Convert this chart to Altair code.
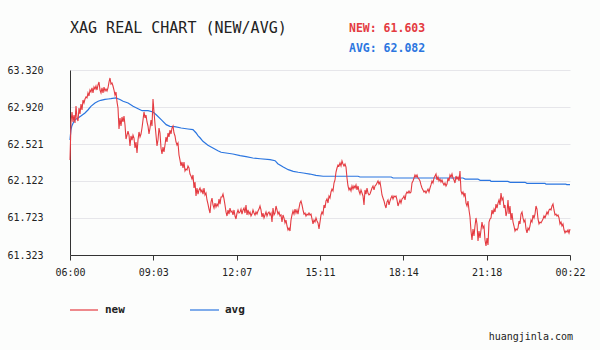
import altair as alt
import pandas as pd
import numpy as np

TITLE = "XAG REAL CHART (NEW/AVG)"
NEW_LABEL = "NEW: 61.603"
AVG_LABEL = "AVG: 62.082"
WATERMARK = "huangjinla.com"
SERIES_NAMES = ["new", "avg"]
RED = "#e43b41"
BLUE = "#2b76e0"

# session length in minutes: 06:00 -> 00:22 next day
SESSION_MINUTES = 1102

NEW_PRICES = [
    62.348, 62.759, 62.867, 62.759, 62.834, 62.748, 62.931, 62.802, 62.769, 62.910,
    62.845, 62.953, 62.888, 62.996, 62.964, 63.007, 63.029, 63.018, 63.072, 63.039,
    63.104, 63.083, 63.126, 63.072, 63.136, 63.115, 63.147, 63.104, 63.158, 63.190,
    63.104, 63.072, 63.126, 63.072, 63.136, 63.093, 63.115, 63.093, 63.126, 63.190,
    63.234, 63.169, 63.180, 63.147, 63.104, 63.050, 63.083, 62.975, 62.910, 62.683,
    62.802, 62.715, 62.813, 62.759, 62.823, 62.726, 62.575, 62.618, 62.661, 62.618,
    62.500, 62.608, 62.564, 62.618, 62.586, 62.478, 62.543, 62.424, 62.564, 62.651,
    62.597, 62.629, 62.694, 62.780, 62.867, 62.802, 62.834, 62.759, 62.715, 62.629,
    62.694, 62.780, 62.715, 63.007, 62.867, 62.737, 62.618, 62.500, 62.564, 62.694,
    62.640, 62.478, 62.413, 62.489, 62.435, 62.510, 62.597, 62.543, 62.640, 62.597,
    62.672, 62.629, 62.694, 62.715, 62.640, 62.608, 62.543, 62.510, 62.532, 62.402,
    62.348, 62.284, 62.327, 62.262, 62.327, 62.230, 62.251, 62.241, 62.284, 62.262,
    62.197, 62.176, 62.143, 62.187, 62.046, 62.111, 61.960, 62.046, 61.981, 62.025,
    62.046, 62.003, 62.025, 61.981, 62.046, 61.971, 61.992, 61.917, 61.873, 61.819,
    61.776, 61.895, 61.938, 61.863, 61.830, 61.884, 61.841, 61.873, 61.852, 61.928,
    61.873, 61.949, 61.949, 61.981, 61.928, 61.863, 61.787, 61.744, 61.809, 61.765,
    61.830, 61.787, 61.798, 61.755, 61.809, 61.744, 61.712, 61.776, 61.809, 61.776,
    61.787, 61.819, 61.765, 61.809, 61.830, 61.776, 61.863, 61.755, 61.809, 61.765,
    61.787, 61.744, 61.765, 61.809, 61.776, 61.755, 61.787, 61.765, 61.798, 61.819,
    61.852, 61.809, 61.733, 61.776, 61.723, 61.755, 61.787, 61.744, 61.776, 61.787,
    61.755, 61.776, 61.679, 61.830, 61.755, 61.776, 61.852, 61.809, 61.765, 61.787,
    61.744, 61.755, 61.679, 61.755, 61.723, 61.669, 61.701, 61.636, 61.593, 61.614,
    61.582, 61.701, 61.755, 61.798, 61.765, 61.819, 61.776, 61.809, 61.765, 61.830,
    61.884, 61.906, 61.863, 61.809, 61.765, 61.776, 61.744, 61.765, 61.755, 61.776,
    61.755, 61.765, 61.712, 61.658, 61.701, 61.679, 61.723, 61.690, 61.669, 61.604,
    61.679, 61.755, 61.787, 61.765, 61.863, 61.830, 61.906, 61.928, 61.884, 61.960,
    61.938, 62.003, 62.035, 62.014, 62.100, 62.133, 62.219, 62.262, 62.294, 62.284,
    62.316, 62.284, 62.338, 62.305, 62.284, 62.305, 62.273, 62.154, 62.068, 62.025,
    62.046, 62.014, 62.068, 62.035, 62.068, 62.046, 62.079, 62.025, 62.068, 62.014,
    61.981, 62.025, 61.992, 61.960, 61.863, 62.025, 61.981, 62.046, 61.992, 61.971,
    61.981, 62.014, 62.046, 62.068, 62.025, 62.068, 62.079, 62.100, 62.122, 62.089,
    62.111, 62.046, 61.971, 61.938, 61.906, 61.863, 61.830, 61.895, 61.917, 61.863,
    61.906, 61.938, 61.960, 61.928, 61.960, 61.949, 61.960, 61.917, 61.852, 61.884,
    61.917, 61.884, 61.928, 61.938, 61.960, 61.917, 61.981, 62.003, 61.992, 62.014,
    61.992, 62.003, 62.100, 62.122, 62.154, 62.187, 62.165, 62.187, 62.154, 62.143,
    62.122, 62.079, 62.046, 62.025, 62.003, 62.014, 61.992, 62.014, 62.035, 62.003,
    62.046, 62.079, 62.122, 62.100, 62.154, 62.176, 62.197, 62.133, 62.165, 62.122,
    62.143, 62.111, 62.133, 62.100, 62.079, 62.100, 62.068, 62.089, 62.154, 62.122,
    62.187, 62.165, 62.197, 62.154, 62.133, 62.100, 62.176, 62.143, 62.165, 62.122,
    62.230, 62.014, 61.981, 62.003, 61.960, 61.992, 61.884, 61.852, 61.906, 61.809,
    61.733, 61.582, 61.485, 61.604, 61.528, 61.636, 61.723, 61.658, 61.474, 61.582,
    61.507, 61.593, 61.679, 61.614, 61.636, 61.485, 61.420, 61.507, 61.431, 61.679,
    61.712, 61.723, 61.809, 61.765, 61.819, 61.787, 61.873, 61.830, 61.884, 61.917,
    61.863, 61.992, 61.917, 61.938, 61.830, 61.863, 61.744, 61.787, 61.917, 61.765,
    61.852, 61.701, 61.776, 61.679, 61.636, 61.582, 61.604, 61.593, 61.614, 61.690,
    61.658, 61.765, 61.787, 61.723, 61.679, 61.701, 61.604, 61.561, 61.614, 61.593,
    61.636, 61.701, 61.679, 61.755, 61.723, 61.765, 61.852, 61.819, 61.712, 61.658,
    61.679, 61.669, 61.690, 61.712, 61.744, 61.723, 61.755, 61.787, 61.765, 61.809,
    61.819, 61.809, 61.852, 61.873, 61.809, 61.755, 61.765, 61.744, 61.755, 61.723,
    61.658, 61.679, 61.636, 61.658, 61.593, 61.561, 61.582, 61.571, 61.593, 61.561,
    61.603,
]

# minutes after 06:00 for the average line
AVG_MINUTES = [
    0, 2, 4, 7, 11, 18, 24, 33, 40, 46, 55, 62, 68, 77, 84, 90, 101, 110, 117, 128,
    139, 150, 159, 172, 183, 190, 201, 212, 220, 231, 245, 260, 271, 278, 282, 287,
    293, 304, 315, 326, 333, 344, 359, 375, 388, 403, 419, 441, 452, 458, 470, 481,
    492, 503, 514, 529, 542, 558, 635, 639, 708, 712, 866, 871, 899, 904, 926, 928,
    965, 970, 1003, 1007, 1047, 1049, 1093, 1095, 1102,
]
AVG_PRICES = [
    62.564, 62.672, 62.715, 62.748, 62.784, 62.802, 62.823, 62.856, 62.891, 62.928,
    62.964, 62.982, 62.993, 63.002, 63.007, 63.010, 63.018, 63.002, 62.982, 62.964,
    62.928, 62.902, 62.881, 62.881, 62.867, 62.837, 62.784, 62.730, 62.712, 62.708,
    62.694, 62.683, 62.676, 62.640, 62.611, 62.586, 62.550, 62.507, 62.478, 62.449,
    62.432, 62.424, 62.413, 62.395, 62.384, 62.370, 62.362, 62.352, 62.341, 62.309,
    62.273, 62.244, 62.226, 62.216, 62.208, 62.197, 62.183, 62.173, 62.173, 62.165,
    62.165, 62.154, 62.154, 62.143, 62.143, 62.129, 62.129, 62.118, 62.118, 62.108,
    62.108, 62.097, 62.097, 62.088, 62.088, 62.082, 62.082,
]

Y_TICKS = [61.323, 61.723, 62.122, 62.521, 62.920, 63.320]
X_TICK_MINUTES = [0, 183.667, 367.333, 551, 734.667, 918.333, 1102]
X_TICK_LABELS = ["06:00", "09:03", "12:07", "15:11", "18:14", "21:18", "00:22"]

new_df = pd.DataFrame({
    "minute": np.linspace(0, SESSION_MINUTES, len(NEW_PRICES)),
    "price": NEW_PRICES,
})
avg_df = pd.DataFrame({"minute": AVG_MINUTES, "price": AVG_PRICES})

MONO = "DejaVu Sans Mono"
label_array = "[" + ",".join("'%s'" % s for s in X_TICK_LABELS) + "]"
step = SESSION_MINUTES / (len(X_TICK_LABELS) - 1)

x_enc = alt.X(
    "minute:Q",
    scale=alt.Scale(domain=[0, SESSION_MINUTES], nice=False, zero=False),
    axis=alt.Axis(
        values=X_TICK_MINUTES,
        labelExpr=f"{label_array}[round(datum.value / {step})]",
        grid=False, title=None,
        domainColor="#333333", domainWidth=1,
        tickColor="#333333", tickSize=5, tickWidth=1,
        labelFont=MONO, labelFontSize=10, labelColor="#222222",
        labelPadding=7, labelFlush=False, labelOverlap=False,
    ),
)
y_enc = alt.Y(
    "price:Q",
    scale=alt.Scale(domain=[61.323, 63.320], nice=False, zero=False),
    axis=alt.Axis(
        values=Y_TICKS, format=".3f", title=None,
        grid=True, gridColor="#e6e6ea", gridWidth=1,
        ticks=False, tickSize=0,
        domainColor="#333333", domainWidth=1,
        labelFont=MONO, labelFontSize=10, labelColor="#222222",
        labelPadding=27, labelOverlap=False,
    ),
)

avg_line = alt.Chart(avg_df).mark_line(color=BLUE, strokeWidth=1.2).encode(x=x_enc, y=y_enc)
new_line = alt.Chart(new_df).mark_line(color=RED, strokeWidth=1.1).encode(x=x_enc, y=y_enc)

one = pd.DataFrame({"k": [0]})


def text_layer(txt, x, y, size, color, bold=False, align="left", baseline="alphabetic"):
    return alt.Chart(one).mark_text(
        text=txt, font=MONO, fontSize=size, color=color,
        fontWeight="bold" if bold else "normal",
        align=align, baseline=baseline,
    ).encode(x=alt.value(x), y=alt.value(y))


def rule_layer(x1, x2, y, color):
    return alt.Chart(one).mark_rule(color=color, strokeWidth=1.2).encode(
        x=alt.value(x1), x2=alt.value(x2), y=alt.value(y)
    )


title = text_layer(TITLE, 0, -37, 15, "#222222")
new_lbl = text_layer(NEW_LABEL, 279, -38, 11.5, RED, bold=True)
avg_lbl = text_layer(AVG_LABEL, 279, -18, 11.5, BLUE, bold=True)
leg_new_line = rule_layer(0, 28, 240, RED)
leg_new_txt = text_layer(SERIES_NAMES[0], 35, 240, 11, "#222222", bold=True, baseline="middle")
leg_avg_line = rule_layer(120, 149, 240, BLUE)
leg_avg_txt = text_layer(SERIES_NAMES[1], 155, 240, 11, "#222222", bold=True, baseline="middle")
wm = text_layer(WATERMARK, 503, 267, 10, "#222222", align="right", baseline="middle")

chart = alt.layer(
    avg_line, new_line, title, new_lbl, avg_lbl,
    leg_new_line, leg_new_txt, leg_avg_line, leg_avg_txt, wm,
).properties(
    width=500, height=185,
    padding={"left": 70, "top": 70, "right": 30, "bottom": 95},
    autosize=alt.AutoSizeParams(type="none"),
    background="#fcfdfc",
).configure_view(stroke=None)

chart.save("out.html", embed_options={"renderer": "svg", "actions": False})
